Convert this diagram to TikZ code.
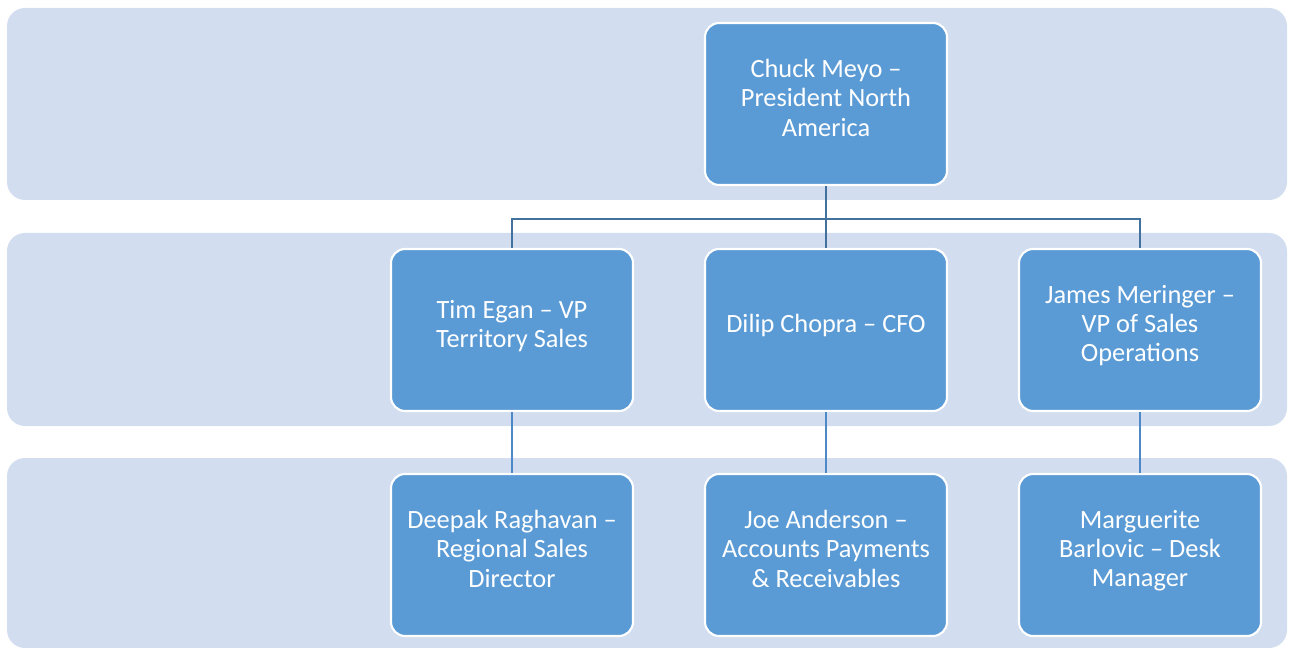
\documentclass[tikz,border=0pt]{standalone}
\usepackage{fontspec}
\setmainfont{Carlito}
\usetikzlibrary{calc}
\definecolor{bandfill}{HTML}{D2DEEF}
\definecolor{boxfill}{HTML}{5B9BD5}
\definecolor{toplink}{HTML}{41719C}
\definecolor{sublink}{HTML}{4D89C6}
\tikzset{
  band/.style={fill=bandfill, rounded corners=0.36cm},
  person/.style={draw=white, line width=1.2pt, fill=boxfill, rounded corners=0.28cm,
    minimum width=4.84cm, minimum height=3.24cm, align=center,
    text=white, font=\fontsize{15}{16.6}\selectfont, text depth=0.25cm},
  trunk/.style={draw=toplink, line width=1.6pt},
  branch/.style={draw=sublink, line width=1.6pt}
}
\begin{document}
\begin{tikzpicture}[x=0.02cm,y=-0.02cm]
    \useasboundingbox (0,0) rectangle (1290,648);
    % level bands
    \fill[band] (7,8) rectangle (1287,200);
    \fill[band] (7,233) rectangle (1287,426);
    \fill[band] (7,458) rectangle (1287,648);
    % top
    \node[person] (ceo) at (826,104) {Chuck Meyo --\\President North\\America};
    % second row
    \node[person] (vpts) at (512,330) {Tim Egan -- VP\\Territory Sales};
    \node[person] (cfo) at (826,330) {Dilip Chopra -- CFO};
    \node[person] (vpso) at (1140,330) {James Meringer --\\VP of Sales\\Operations};
    % third row
    \node[person] (rsd) at (512,555) {Deepak Raghavan --\\Regional Sales\\Director};
    \node[person] (apr) at (826,555) {Joe Anderson --\\Accounts Payments\\\& Receivables};
    \node[person] (dm) at (1140,555) {Marguerite\\Barlovic -- Desk\\Manager};
    % from top to second row
    \draw[trunk] (ceo.south) -- (cfo.north);
    \draw[trunk] (ceo.south) -- ++(0,33) -| (vpts.north);
    \draw[trunk] (ceo.south) -- ++(0,33) -| (vpso.north);
    % second row to third row
    \draw[branch] (vpts) -- (rsd);
    \draw[branch] (cfo) -- (apr);
    \draw[branch] (vpso) -- (dm);
\end{tikzpicture}
\end{document}
